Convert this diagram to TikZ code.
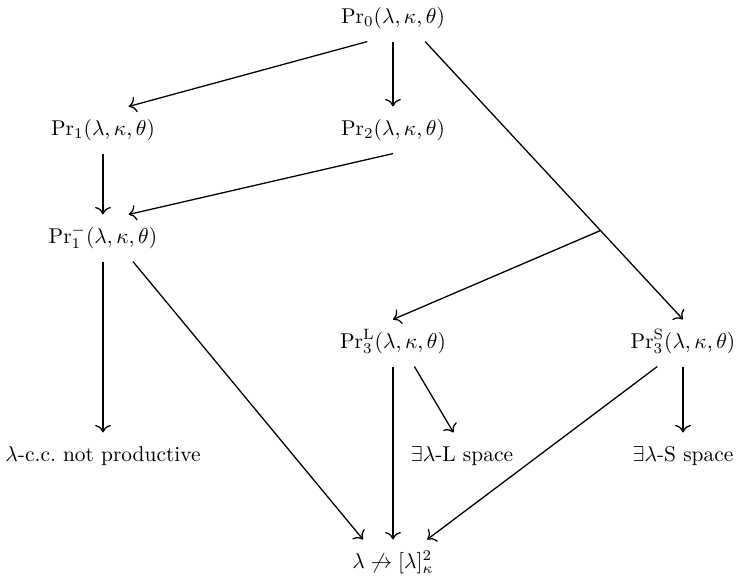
\documentclass[tikz,border=0pt]{standalone}
\usepackage{amsmath,amssymb}
\usepackage{tikz}
\usetikzlibrary{arrows.meta, positioning}

\begin{document}
\begin{tikzpicture}[
    prop/.style={
        inner sep=3pt,
        outer sep=3pt,
        text height=7.5pt,
        text depth=2.5pt
    },
    impl/.style={-{To[scale=1.2]}, semithick}
]
\useasboundingbox (0,0) rectangle (12.085,-9.475);

\node[prop] (pr0) at (6.453,-0.296) {$\mathrm{Pr}_0(\lambda,\kappa,\theta)$};

\node[prop] (pr1) at (1.691,-2.135) {$\mathrm{Pr}_1(\lambda,\kappa,\theta)$};
\node[prop] (pr2) at (6.453,-2.135) {$\mathrm{Pr}_2(\lambda,\kappa,\theta)$};

\node[prop] (pr1m) at (1.691,-3.908) {$\mathrm{Pr}_1^{-}(\lambda,\kappa,\theta)$};

\node[prop] (pr3L) at (6.453,-5.632) {$\mathrm{Pr}_3^{\mathrm{L}}(\lambda,\kappa,\theta)$};
\node[prop] (pr3S) at (11.215,-5.632) {$\mathrm{Pr}_3^{\mathrm{S}}(\lambda,\kappa,\theta)$};

\node[prop] (ccc) at (1.691,-7.488) {$\lambda$-c.c.\ not productive};
\node[prop] (Lsp) at (7.586,-7.488) {$\exists\lambda$-L space};
\node[prop] (Ssp) at (11.215,-7.488) {$\exists\lambda$-S space};

\node[prop] (lam) at (6.453,-9.245) {$\lambda\not\rightarrow[\lambda]^2_\kappa$};

\draw[impl] ([xshift=-12pt]pr0.south) -- ([xshift=12pt]pr1.north);
\draw[impl] (pr0.south) -- (pr2.north);
\draw[impl] ([xshift=15pt]pr0.south) -- coordinate[pos=0.68] (split) (pr3S.north);
\draw[impl] (split) -- (pr3L.north);

\draw[impl] (pr1.south) -- (pr1m.north);
\draw[impl] (pr2.south) -- ([xshift=12pt]pr1m.north);

\draw[impl] (pr1m.south) -- (ccc.north);
\draw[impl] ([xshift=14pt]pr1m.south) -- ([xshift=-14pt]lam.north);

\draw[impl] (pr3L.south) -- (lam.north);
\draw[impl] ([xshift=10pt]pr3L.south) -- ([xshift=-4pt]Lsp.north);
\draw[impl] ([xshift=-12pt]pr3S.south) -- ([xshift=16pt]lam.north);
\draw[impl] (pr3S.south) -- (Ssp.north);

\end{tikzpicture}
\end{document}
